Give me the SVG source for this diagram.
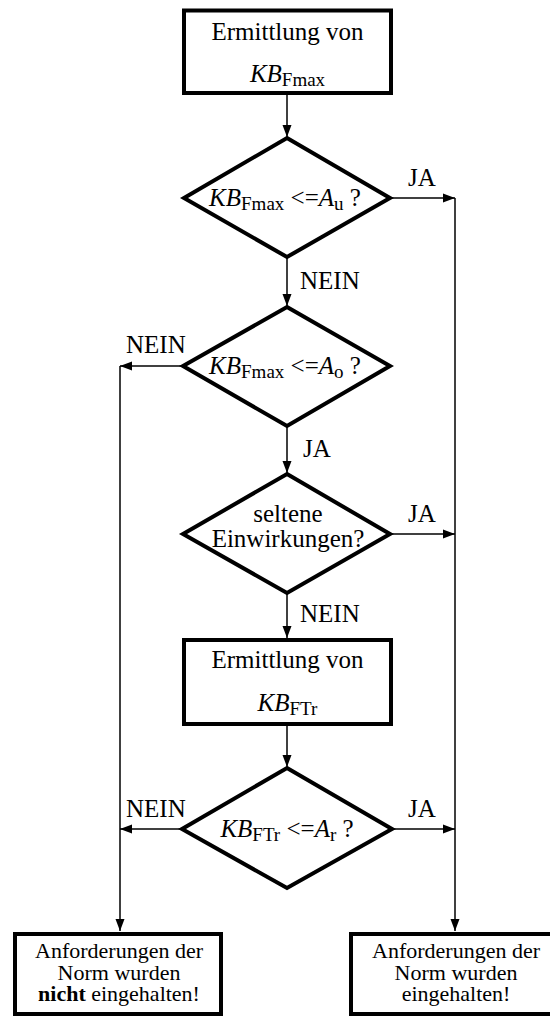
<svg xmlns="http://www.w3.org/2000/svg" width="550" height="1017" viewBox="0 0 550 1017">
<style>
.shape{fill:#fff;stroke:#000;stroke-width:4;stroke-linejoin:miter}
.conn{fill:none;stroke:#000;stroke-width:1.5}
text{font-family:'Liberation Serif','DejaVu Serif',serif;fill:#000}
.t{font-size:25px}
.i{font-style:italic}
.sub{font-size:19px}
.b{font-size:22px}
</style>
<defs>
<marker id="ah" markerUnits="userSpaceOnUse" markerWidth="12" markerHeight="10" refX="12" refY="5" orient="auto">
<path d="M0,0.5 L12,5 L0,9.5 z" fill="#000"/>
</marker>
</defs>
<rect width="550" height="1017" fill="#fff"/>
<g id="connectors">
<line class="conn" x1="287" y1="95" x2="287" y2="137" marker-end="url(#ah)"/>
<line class="conn" x1="391" y1="198" x2="455" y2="198" marker-end="url(#ah)"/>
<line class="conn" x1="455" y1="198" x2="455" y2="931" marker-end="url(#ah)"/>
<line class="conn" x1="287" y1="258" x2="287" y2="306" marker-end="url(#ah)"/>
<line class="conn" x1="182" y1="366" x2="120" y2="366" marker-end="url(#ah)"/>
<line class="conn" x1="120" y1="366" x2="120" y2="931" marker-end="url(#ah)"/>
<line class="conn" x1="287" y1="427" x2="287" y2="473" marker-end="url(#ah)"/>
<line class="conn" x1="391" y1="534" x2="455" y2="534" marker-end="url(#ah)"/>
<line class="conn" x1="287" y1="594" x2="287" y2="638" marker-end="url(#ah)"/>
<line class="conn" x1="287" y1="726" x2="287" y2="767" marker-end="url(#ah)"/>
<line class="conn" x1="181" y1="829" x2="120" y2="829" marker-end="url(#ah)"/>
<line class="conn" x1="393" y1="829" x2="455" y2="829" marker-end="url(#ah)"/>
<text class="t" x="408" y="186" font-family="Liberation Serif">JA</text>
<text class="t" x="300" y="289" font-family="Liberation Serif">NEIN</text>
<text class="t" x="126" y="353" font-family="Liberation Serif">NEIN</text>
<text class="t" x="303" y="457" font-family="Liberation Serif">JA</text>
<text class="t" x="408" y="522" font-family="Liberation Serif">JA</text>
<text class="t" x="300" y="622" font-family="Liberation Serif">NEIN</text>
<text class="t" x="126" y="817" font-family="Liberation Serif">NEIN</text>
<text class="t" x="408" y="817" font-family="Liberation Serif">JA</text>
</g>
<g id="box1">
<rect class="shape" x="184" y="10.5" width="207" height="82.5"/>
<text class="t" x="287.5" y="40" text-anchor="middle">Ermittlung von</text>
<text class="t" x="287.5" y="82" text-anchor="middle"><tspan class="i">KB</tspan><tspan class="sub" dy="4">Fmax</tspan></text>
</g>
<g id="d1">
<polygon class="shape" points="287,138 390,198 287,257 184,198"/>
<text class="t" x="285" y="206" text-anchor="middle"><tspan class="i">KB</tspan><tspan class="sub" dy="4">Fmax</tspan><tspan dy="-4"> &lt;=</tspan><tspan class="i">A</tspan><tspan class="sub" dy="4">u</tspan><tspan dy="-4"> ?</tspan></text>
</g>
<g id="d2">
<polygon class="shape" points="287,307 390,366 287,426 183,366"/>
<text class="t" x="285" y="374" text-anchor="middle"><tspan class="i">KB</tspan><tspan class="sub" dy="4">Fmax</tspan><tspan dy="-4"> &lt;=</tspan><tspan class="i">A</tspan><tspan class="sub" dy="4">o</tspan><tspan dy="-4"> ?</tspan></text>
</g>
<g id="d3">
<polygon class="shape" points="287,474 390,534 287,593 183,534"/>
<text class="t" x="288" y="522" text-anchor="middle">seltene</text>
<text class="t" x="288" y="547" text-anchor="middle">Einwirkungen?</text>
</g>
<g id="box2">
<rect class="shape" x="184" y="640" width="207" height="84"/>
<text class="t" x="287.5" y="668" text-anchor="middle">Ermittlung von</text>
<text class="t" x="287.5" y="711" text-anchor="middle"><tspan class="i">KB</tspan><tspan class="sub" dy="4">FTr</tspan></text>
</g>
<g id="d4">
<polygon class="shape" points="287,768 392,829 287,888 182,829"/>
<text class="t" x="287" y="837" text-anchor="middle"><tspan class="i">KB</tspan><tspan class="sub" dy="4">FTr</tspan><tspan dy="-4"> &lt;=</tspan><tspan class="i">A</tspan><tspan class="sub" dy="4">r</tspan><tspan dy="-4"> ?</tspan></text>
</g>
<g id="end-no">
<rect class="shape" x="15" y="934" width="206" height="80"/>
<text class="b" x="119" y="958" text-anchor="middle">Anforderungen der</text>
<text class="b" x="119" y="980" text-anchor="middle">Norm wurden</text>
<text class="b" x="119" y="1001" text-anchor="middle"><tspan font-weight="bold">nicht</tspan> eingehalten!</text>
</g>
<g id="end-yes">
<rect class="shape" x="351" y="934" width="208" height="80"/>
<text class="b" x="456" y="958" text-anchor="middle">Anforderungen der</text>
<text class="b" x="456" y="980" text-anchor="middle">Norm wurden</text>
<text class="b" x="456" y="1001" text-anchor="middle">eingehalten!</text>
</g>
</svg>
